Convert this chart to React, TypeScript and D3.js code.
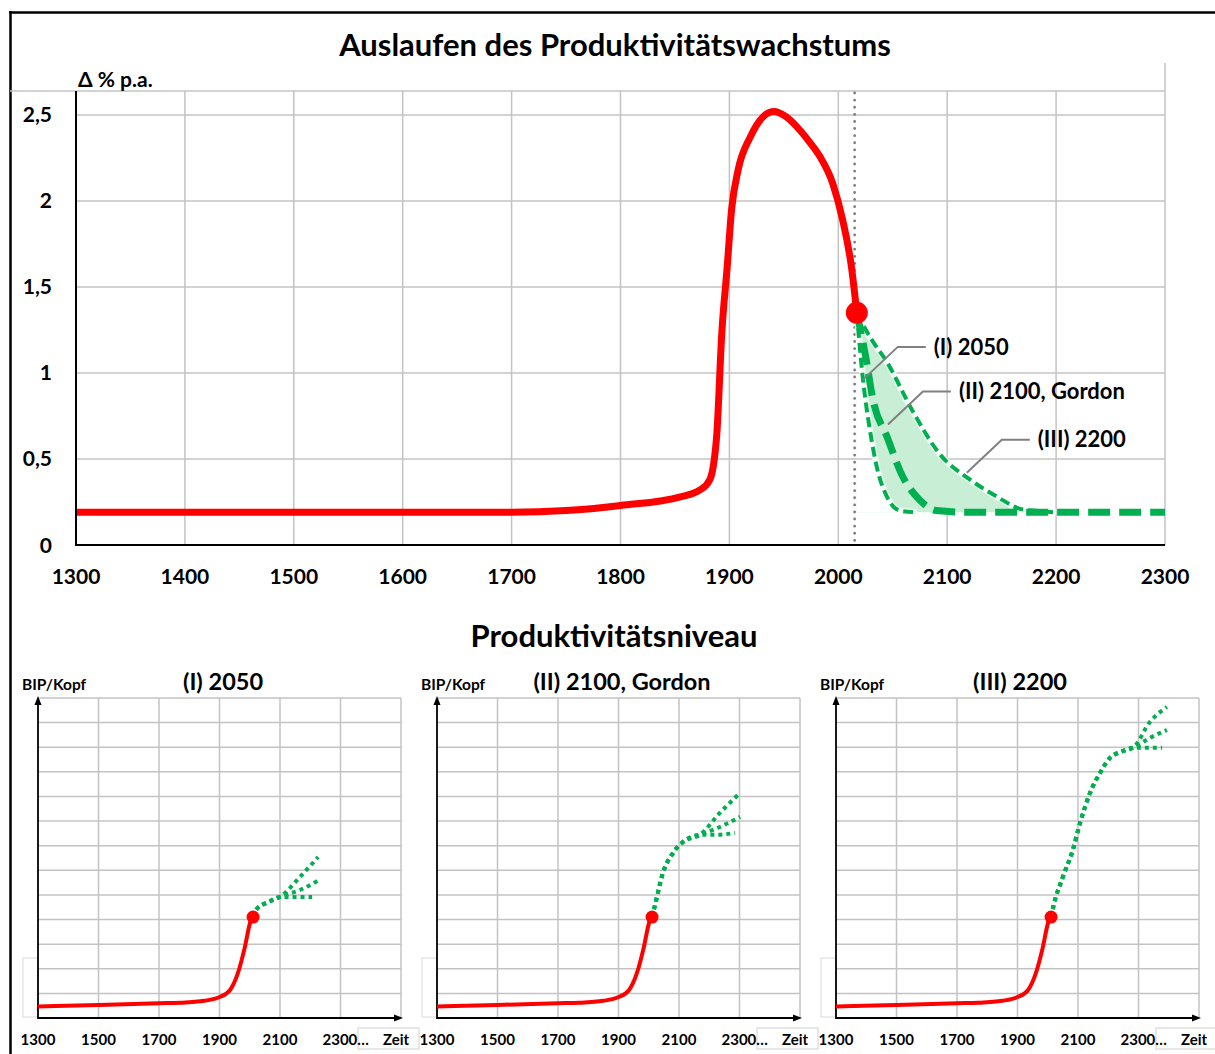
import { useEffect, useRef } from "react";
import * as d3 from "d3";

type Pt = [number, number];

// ---- top chart data ----
const topYearTicks = [1300, 1400, 1500, 1600, 1700, 1800, 1900, 2000, 2100, 2200, 2300];
const topValueTicks = [0, 0.5, 1, 1.5, 2, 2.5];
const topValueLabels = ["0", "0,5", "1", "1,5", "2", "2,5"];

const growthHistory: Pt[] = [
  [1300, 0.19], [1500, 0.19], [1700, 0.19], [1750, 0.2], [1800, 0.23],
  [1855, 0.28], [1873, 0.32], [1882, 0.38], [1885, 0.45], [1888.5, 0.65],
  [1893, 1.23], [1898, 1.62], [1902, 1.95], [1908, 2.18], [1919, 2.37],
  [1931, 2.49], [1941, 2.52], [1952, 2.49], [1965, 2.41], [1974, 2.34],
  [1983, 2.26], [1995, 2.1], [2004, 1.89], [2012, 1.62], [2017, 1.35],
];
const scenario2050: Pt[] = [
  [2017, 1.35], [2022.7, 0.96], [2029, 0.67], [2035.5, 0.45], [2044.7, 0.28],
  [2056.6, 0.2], [2072, 0.19],
];
const scenario2100: Pt[] = [
  [2017, 1.35], [2025, 1.1], [2032, 0.84], [2044.7, 0.63], [2059, 0.4],
  [2075, 0.26], [2090, 0.2], [2120, 0.19], [2300, 0.19],
];
const scenario2200: Pt[] = [
  [2017, 1.35], [2029, 1.21], [2045, 1.06], [2069, 0.77], [2093, 0.53],
  [2121, 0.38], [2146, 0.28], [2167, 0.21], [2179, 0.2], [2200, 0.19],
];
const todayYear = 2015;
const todayPoint: Pt = [2017, 1.35];
const scenarioLabels = ["(I) 2050", "(II) 2100, Gordon", "(III) 2200"];
const labelAnchors: Pt[] = [[2022.5, 0.96], [2045.6, 0.7], [2118, 0.42]];

// ---- bottom panels data ----
const panelTitles = ["(I) 2050", "(II) 2100, Gordon", "(III) 2200"];
const levelYearTicks = [1300, 1500, 1700, 1900, 2100, 2300];
const levelTickLabels = ["1300", "1500", "1700", "1900", "2100", "2300…"];
const levelGridRows = d3.range(1, 14);
const levelHistory: Pt[] = [
  [1300, 0.47], [1500, 0.53], [1700, 0.6], [1770, 0.62], [1850, 0.7],
  [1900, 0.85], [1935, 1.14], [1961, 1.83], [1984, 2.89], [2001, 3.86], [2011, 4.1],
];
const level2050: Pt[][] = [
  [[2011, 4.1], [2023, 4.43], [2060, 4.7], [2100, 4.92], [2166, 5.73], [2226, 6.54]],
  [[2011, 4.1], [2023, 4.43], [2060, 4.7], [2100, 4.92], [2166, 5.2], [2229, 5.6]],
  [[2011, 4.1], [2023, 4.43], [2060, 4.7], [2100, 4.92], [2143, 4.92], [2206, 4.92]],
];
const level2100: Pt[][] = [
  [[2011, 4.1], [2021, 4.6], [2047, 5.9], [2080, 6.7], [2113, 7.15], [2169, 7.44], [2235, 8.33], [2302, 9.15]],
  [[2011, 4.1], [2021, 4.6], [2047, 5.9], [2080, 6.7], [2113, 7.15], [2169, 7.44], [2235, 7.76], [2302, 8.17]],
  [[2011, 4.1], [2021, 4.6], [2047, 5.9], [2080, 6.7], [2113, 7.15], [2169, 7.44], [2225, 7.44], [2285, 7.52]],
];
const level2200Stem: Pt[] = [
  [2011, 4.1], [2020, 4.6], [2050, 5.73], [2083, 6.83], [2107, 7.93], [2140, 9.15],
  [2173, 9.96], [2206, 10.57], [2239, 10.8], [2282, 10.98],
];
const level2200: Pt[][] = [
  [...level2200Stem, [2338, 12.03], [2394, 12.64]],
  [...level2200Stem, [2338, 11.38], [2394, 11.7]],
  [...level2200Stem, [2328, 10.98], [2378, 10.98]],
];
const levelScenarios = [level2050, level2100, level2200];

const FONT = "Lato, 'Open Sans', sans-serif";
const RED = "#ff0000";
const GREEN = "#00b050";
const GRID = "#c3c3c3";

export default function App() {
  const svgRef = useRef<SVGSVGElement>(null);

  useEffect(() => {
    if (!svgRef.current) return;
    const svg = d3.select(svgRef.current);
    svg.selectAll("*").remove();

    svg.append("rect").attr("width", 1215).attr("height", 1054).attr("fill", "#fff");

    // frame
    svg.append("line").attr("x1", 9).attr("x2", 1215).attr("y1", 12.5).attr("y2", 12.5)
      .attr("stroke", "#000").attr("stroke-width", 2.5);
    svg.append("line").attr("x1", 10.5).attr("x2", 10.5).attr("y1", 11).attr("y2", 1054)
      .attr("stroke", "#000").attr("stroke-width", 2.5);

    // ===== top chart =====
    const x = d3.scaleLinear().domain([1300, 2300]).range([76, 1165]);
    const y = d3.scaleLinear().domain([0, 2.5]).range([545, 115]);
    const plotTop = 91;

    const g = svg.append("g");

    // grid
    g.append("line").attr("x1", 10).attr("x2", x(2300)).attr("y1", plotTop).attr("y2", plotTop)
      .attr("stroke", GRID).attr("stroke-width", 1.5);
    topValueTicks.filter((v) => v > 0).forEach((v) => {
      g.append("line").attr("x1", x(1300)).attr("x2", x(2300)).attr("y1", y(v)).attr("y2", y(v))
        .attr("stroke", GRID).attr("stroke-width", 1.5);
    });
    topYearTicks.filter((t) => t > 1300).forEach((t) => {
      g.append("line").attr("x1", x(t)).attr("x2", x(t))
        .attr("y1", t === 2300 ? 63 : plotTop).attr("y2", y(0))
        .attr("stroke", GRID).attr("stroke-width", 1.5);
    });

    // today marker
    g.append("line").attr("x1", x(todayYear)).attr("x2", x(todayYear))
      .attr("y1", plotTop + 2).attr("y2", y(0))
      .attr("stroke", "#7f7f7f").attr("stroke-width", 2.8)
      .attr("stroke-linecap", "round").attr("stroke-dasharray", "0.1,7");

    const line = d3.line<Pt>().x((d) => x(d[0])).y((d) => y(d[1])).curve(d3.curveMonotoneX);
    const area = d3.area<Pt>().x((d) => x(d[0])).y0(y(0.19)).y1((d) => y(d[1])).curve(d3.curveMonotoneX);

    // shaded scenario band (between I and III)
    const defs = svg.append("defs");
    const mask = defs.append("mask").attr("id", "band");
    mask.append("path").attr("d", area(scenario2200) as string).attr("fill", "#fff");
    mask.append("path").attr("d", area(scenario2050) as string).attr("fill", "#000");
    g.append("rect").attr("x", x(2000)).attr("y", y(1.5)).attr("width", x(2300) - x(2000))
      .attr("height", y(0) - y(1.5)).attr("fill", "#c8eed6").attr("mask", "url(#band)");

    // scenario curves
    [scenario2050, scenario2200].forEach((s) => {
      g.append("path").datum(s).attr("fill", "none").attr("stroke", "#fff")
        .attr("stroke-width", 6.5).attr("stroke-opacity", 0.75).attr("d", line);
      g.append("path").datum(s).attr("fill", "none").attr("stroke", GREEN)
        .attr("stroke-width", 4).attr("stroke-dasharray", "10,5").attr("d", line);
    });
    g.append("path").datum(scenario2100).attr("fill", "none").attr("stroke", GREEN)
      .attr("stroke-width", 7).attr("stroke-dasharray", "22,9").attr("d", line);

    // history
    g.append("path").datum(growthHistory).attr("fill", "none").attr("stroke", RED)
      .attr("stroke-width", 7).attr("stroke-linejoin", "round").attr("d", line);
    g.append("circle").attr("cx", x(todayPoint[0])).attr("cy", y(todayPoint[1])).attr("r", 11)
      .attr("fill", RED);

    // annotations
    labelAnchors.forEach((a, i) => {
      const ax = x(a[0]);
      const ay = y(a[1]);
      g.append("polyline")
        .attr("points", `${ax},${ay} ${ax + 35},${ay - 33} ${ax + 63},${ay - 33}`)
        .attr("fill", "none").attr("stroke", "#808080").attr("stroke-width", 2);
      g.append("text").attr("x", ax + 71).attr("y", ay - 33).attr("dy", "0.35em")
        .attr("font-family", FONT).attr("font-weight", 700).attr("font-size", 22)
        .attr("fill", "#000").text(scenarioLabels[i]);
    });

    // axes
    g.append("line").attr("x1", x(1300)).attr("x2", x(1300)).attr("y1", plotTop).attr("y2", y(0) + 1)
      .attr("stroke", "#000").attr("stroke-width", 2);
    g.append("line").attr("x1", x(1300)).attr("x2", x(2300)).attr("y1", y(0)).attr("y2", y(0))
      .attr("stroke", "#000").attr("stroke-width", 2);

    topValueTicks.forEach((v, i) => {
      g.append("text").attr("x", 52).attr("y", y(v) + (v === 0 ? 1 : 0)).attr("dy", "0.35em")
        .attr("text-anchor", "end").attr("font-family", FONT).attr("font-weight", 700)
        .attr("font-size", 21).attr("fill", "#000").text(topValueLabels[i]);
    });
    topYearTicks.forEach((t) => {
      g.append("text").attr("x", x(t)).attr("y", 584).attr("text-anchor", "middle")
        .attr("font-family", FONT).attr("font-weight", 700).attr("font-size", 21)
        .attr("fill", "#000").text(String(t));
    });

    g.append("text").attr("x", 615).attr("y", 56).attr("text-anchor", "middle")
      .attr("font-family", FONT).attr("font-weight", 700).attr("font-size", 31)
      .attr("fill", "#000").text("Auslaufen des Produktivitätswachstums");
    g.append("text").attr("x", 78).attr("y", 87)
      .attr("font-family", FONT).attr("font-weight", 700).attr("font-size", 21)
      .attr("fill", "#000").text("Δ % p.a.");

    // ===== bottom panels =====
    svg.append("text").attr("x", 614).attr("y", 647).attr("text-anchor", "middle")
      .attr("font-family", FONT).attr("font-weight", 700).attr("font-size", 31)
      .attr("fill", "#000").text("Produktivitätsniveau");

    const panelLeft = [38, 437, 836];
    const panelWidth = 363;
    const axisY = 1018;
    const topY = 698;

    panelLeft.forEach((left, p) => {
      const px = d3.scaleLinear().domain([1300, 2500]).range([left, left + panelWidth]);
      const py = d3.scaleLinear().domain([0, 13]).range([axisY, topY]);
      const pg = svg.append("g");

      // odd little boxes from the source layout
      pg.append("rect").attr("x", left - 15).attr("y", 958).attr("width", 15).attr("height", 59)
        .attr("fill", "none").attr("stroke", "#d9d9d9").attr("stroke-width", 1);
      pg.append("rect").attr("x", left + 320).attr("y", 1028).attr("width", 61).attr("height", 21)
        .attr("fill", "#fff").attr("stroke", "#d0d0d0").attr("stroke-width", 1);

      levelGridRows.forEach((r) => {
        pg.append("line").attr("x1", px(1300)).attr("x2", px(2500)).attr("y1", py(r)).attr("y2", py(r))
          .attr("stroke", GRID).attr("stroke-width", 1.5);
      });
      [...levelYearTicks.slice(1), 2500].forEach((t) => {
        pg.append("line").attr("x1", px(t)).attr("x2", px(t)).attr("y1", py(13)).attr("y2", axisY)
          .attr("stroke", GRID).attr("stroke-width", 1.5);
      });

      // axes with arrows
      pg.append("line").attr("x1", px(1300)).attr("x2", px(1300)).attr("y1", axisY + 1).attr("y2", topY + 4)
        .attr("stroke", "#000").attr("stroke-width", 1.8);
      pg.append("path")
        .attr("d", `M${px(1300)},${topY - 2} l-3.5,9 l7,0 Z`).attr("fill", "#000");
      pg.append("line").attr("x1", px(1300)).attr("x2", px(2500) - 4).attr("y1", axisY).attr("y2", axisY)
        .attr("stroke", "#000").attr("stroke-width", 1.8);
      pg.append("path")
        .attr("d", `M${px(2500) + 2},${axisY} l-9,-3.5 l0,7 Z`).attr("fill", "#000");

      const pline = d3.line<Pt>().x((d) => px(d[0])).y((d) => py(d[1])).curve(d3.curveMonotoneX);

      levelScenarios[p].forEach((s) => {
        pg.append("path").datum(s).attr("fill", "none").attr("stroke", GREEN)
          .attr("stroke-width", 4).attr("stroke-dasharray", "4,4").attr("d", pline);
      });
      pg.append("path").datum(levelHistory).attr("fill", "none").attr("stroke", RED)
        .attr("stroke-width", 4).attr("stroke-linejoin", "round").attr("d", pline);
      const last = levelHistory[levelHistory.length - 1];
      pg.append("circle").attr("cx", px(last[0])).attr("cy", py(last[1])).attr("r", 6.5).attr("fill", RED);

      levelYearTicks.forEach((t, i) => {
        const lbl = levelTickLabels[i];
        const isLast = i === levelYearTicks.length - 1;
        pg.append("text").attr("x", isLast ? px(t) - 18 : px(t)).attr("y", 1045)
          .attr("text-anchor", isLast ? "start" : "middle")
          .attr("font-family", FONT).attr("font-weight", 700).attr("font-size", 15)
          .attr("fill", "#000").text(lbl);
      });
      pg.append("text").attr("x", left + 345).attr("y", 1045)
        .attr("font-family", FONT).attr("font-weight", 700).attr("font-size", 15)
        .attr("fill", "#000").text("Zeit");

      pg.append("text").attr("x", left - 16).attr("y", 690)
        .attr("font-family", FONT).attr("font-weight", 700).attr("font-size", 15.5)
        .attr("fill", "#000").text("BIP/Kopf");
      pg.append("text").attr("x", [223, 622, 1020][p]).attr("y", 690).attr("text-anchor", "middle")
        .attr("font-family", FONT).attr("font-weight", 700).attr("font-size", 23.5)
        .attr("fill", "#000").text(panelTitles[p]);
    });
  }, []);

  return (
    <svg
      ref={svgRef}
      width={1215}
      height={1054}
      style={{ position: "absolute", left: 0, top: 0, display: "block" }}
    />
  );
}
